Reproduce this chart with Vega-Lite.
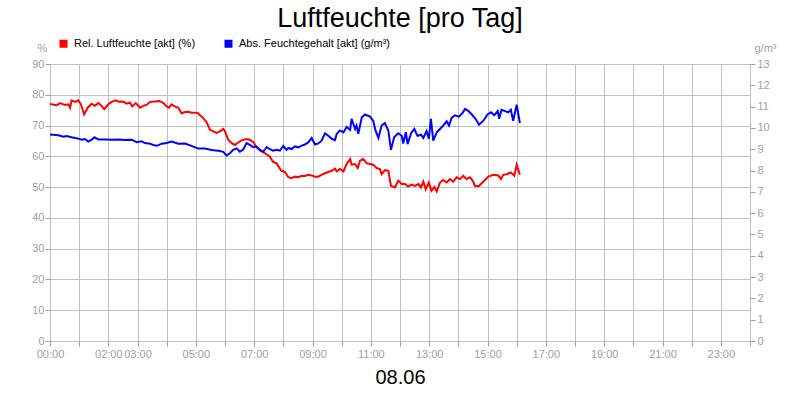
{
  "$schema": "https://vega.github.io/schema/vega-lite/v6.json",
  "autosize": {"type": "none"},
  "width": 700,
  "height": 277,
  "padding": {"left": 50, "top": 64, "right": 50, "bottom": 59},
  "background": "white",
  "title": {"text": "Luftfeuchte [pro Tag]", "frame": "group", "anchor": "middle", "baseline": "alphabetic", "offset": 8, "dy": 24, "fontSize": 27, "font": "Liberation Sans", "fontWeight": "normal", "color": "black"},
  "config": {
    "view": {"stroke": "black", "strokeWidth": 1},
    "axis": {"labelFont": "Liberation Sans", "labelFontSize": 11, "labelColor": "#a0a0a0", "tickColor": "#a0a0a0", "tickSize": 5, "domain": false, "gridColor": "#c0c0c0", "gridOpacity": 1, "gridWidth": 1, "titleFont": "Liberation Sans", "titleFontWeight": "normal"}
  },
  "layer": [
    {
      "data": {"values": [
        {"stunde": 0.0, "rel": 77.0}, {"stunde": 0.23, "rel": 76.6}, {"stunde": 0.34, "rel": 77.3}, {"stunde": 0.51, "rel": 76.7}, {"stunde": 0.63, "rel": 76.9}, {"stunde": 0.69, "rel": 75.8}, {"stunde": 0.74, "rel": 78.2}, {"stunde": 0.86, "rel": 77.7}, {"stunde": 0.97, "rel": 78.2}, {"stunde": 1.06, "rel": 76.9}, {"stunde": 1.17, "rel": 73.6}, {"stunde": 1.29, "rel": 75.8}, {"stunde": 1.43, "rel": 77.1}, {"stunde": 1.54, "rel": 76.4}, {"stunde": 1.66, "rel": 77.3}, {"stunde": 1.77, "rel": 76.4}, {"stunde": 1.86, "rel": 75.3}, {"stunde": 2.0, "rel": 76.9}, {"stunde": 2.11, "rel": 77.7}, {"stunde": 2.25, "rel": 78.2}, {"stunde": 2.37, "rel": 77.7}, {"stunde": 2.51, "rel": 77.8}, {"stunde": 2.63, "rel": 77.1}, {"stunde": 2.74, "rel": 77.5}, {"stunde": 2.82, "rel": 76.2}, {"stunde": 2.94, "rel": 77.3}, {"stunde": 3.09, "rel": 75.8}, {"stunde": 3.2, "rel": 76.4}, {"stunde": 3.31, "rel": 76.7}, {"stunde": 3.43, "rel": 77.7}, {"stunde": 3.6, "rel": 77.8}, {"stunde": 3.74, "rel": 78.0}, {"stunde": 3.89, "rel": 77.3}, {"stunde": 4.0, "rel": 76.2}, {"stunde": 4.08, "rel": 75.8}, {"stunde": 4.17, "rel": 76.9}, {"stunde": 4.28, "rel": 76.2}, {"stunde": 4.4, "rel": 75.8}, {"stunde": 4.51, "rel": 74.0}, {"stunde": 4.63, "rel": 74.4}, {"stunde": 4.74, "rel": 74.5}, {"stunde": 4.85, "rel": 74.2}, {"stunde": 4.97, "rel": 74.2}, {"stunde": 5.08, "rel": 74.0}, {"stunde": 5.14, "rel": 73.3}, {"stunde": 5.25, "rel": 72.5}, {"stunde": 5.37, "rel": 71.1}, {"stunde": 5.48, "rel": 68.7}, {"stunde": 5.6, "rel": 68.1}, {"stunde": 5.71, "rel": 67.6}, {"stunde": 5.83, "rel": 68.1}, {"stunde": 5.94, "rel": 68.9}, {"stunde": 6.0, "rel": 68.1}, {"stunde": 6.11, "rel": 65.4}, {"stunde": 6.23, "rel": 64.3}, {"stunde": 6.34, "rel": 63.7}, {"stunde": 6.45, "rel": 64.5}, {"stunde": 6.57, "rel": 65.2}, {"stunde": 6.74, "rel": 65.6}, {"stunde": 6.85, "rel": 65.4}, {"stunde": 6.97, "rel": 64.6}, {"stunde": 7.08, "rel": 63.0}, {"stunde": 7.2, "rel": 61.9}, {"stunde": 7.37, "rel": 61.0}, {"stunde": 7.54, "rel": 59.9}, {"stunde": 7.65, "rel": 58.2}, {"stunde": 7.77, "rel": 57.7}, {"stunde": 7.88, "rel": 56.0}, {"stunde": 7.94, "rel": 55.3}, {"stunde": 8.06, "rel": 54.9}, {"stunde": 8.17, "rel": 53.2}, {"stunde": 8.28, "rel": 52.9}, {"stunde": 8.4, "rel": 53.4}, {"stunde": 8.51, "rel": 53.2}, {"stunde": 8.63, "rel": 53.7}, {"stunde": 8.74, "rel": 53.6}, {"stunde": 8.86, "rel": 54.0}, {"stunde": 8.97, "rel": 53.8}, {"stunde": 9.09, "rel": 53.4}, {"stunde": 9.2, "rel": 53.4}, {"stunde": 9.31, "rel": 54.0}, {"stunde": 9.43, "rel": 54.5}, {"stunde": 9.54, "rel": 54.9}, {"stunde": 9.66, "rel": 55.3}, {"stunde": 9.77, "rel": 56.0}, {"stunde": 9.83, "rel": 55.1}, {"stunde": 9.94, "rel": 55.9}, {"stunde": 10.06, "rel": 55.1}, {"stunde": 10.17, "rel": 57.5}, {"stunde": 10.29, "rel": 59.1}, {"stunde": 10.34, "rel": 57.3}, {"stunde": 10.46, "rel": 57.5}, {"stunde": 10.55, "rel": 56.2}, {"stunde": 10.63, "rel": 58.6}, {"stunde": 10.74, "rel": 59.1}, {"stunde": 10.86, "rel": 57.7}, {"stunde": 10.97, "rel": 57.5}, {"stunde": 11.08, "rel": 57.3}, {"stunde": 11.2, "rel": 56.2}, {"stunde": 11.31, "rel": 55.9}, {"stunde": 11.37, "rel": 54.2}, {"stunde": 11.48, "rel": 55.5}, {"stunde": 11.6, "rel": 55.3}, {"stunde": 11.69, "rel": 50.4}, {"stunde": 11.83, "rel": 49.9}, {"stunde": 11.94, "rel": 52.1}, {"stunde": 12.06, "rel": 51.0}, {"stunde": 12.17, "rel": 51.0}, {"stunde": 12.28, "rel": 50.2}, {"stunde": 12.4, "rel": 50.8}, {"stunde": 12.51, "rel": 50.4}, {"stunde": 12.63, "rel": 51.0}, {"stunde": 12.72, "rel": 49.9}, {"stunde": 12.8, "rel": 51.8}, {"stunde": 12.88, "rel": 49.3}, {"stunde": 12.99, "rel": 51.5}, {"stunde": 13.08, "rel": 48.8}, {"stunde": 13.18, "rel": 50.1}, {"stunde": 13.26, "rel": 48.6}, {"stunde": 13.37, "rel": 51.5}, {"stunde": 13.48, "rel": 52.3}, {"stunde": 13.6, "rel": 51.5}, {"stunde": 13.71, "rel": 52.6}, {"stunde": 13.83, "rel": 51.8}, {"stunde": 13.94, "rel": 53.2}, {"stunde": 14.06, "rel": 52.6}, {"stunde": 14.17, "rel": 53.7}, {"stunde": 14.28, "rel": 52.6}, {"stunde": 14.4, "rel": 53.2}, {"stunde": 14.51, "rel": 51.8}, {"stunde": 14.57, "rel": 50.4}, {"stunde": 14.71, "rel": 50.4}, {"stunde": 14.86, "rel": 51.8}, {"stunde": 15.03, "rel": 53.4}, {"stunde": 15.2, "rel": 54.0}, {"stunde": 15.37, "rel": 53.8}, {"stunde": 15.46, "rel": 52.6}, {"stunde": 15.54, "rel": 54.0}, {"stunde": 15.66, "rel": 54.2}, {"stunde": 15.8, "rel": 54.8}, {"stunde": 15.92, "rel": 53.7}, {"stunde": 16.0, "rel": 57.3}, {"stunde": 16.11, "rel": 54.0}
      ]},
      "mark": {"type": "line", "strokeWidth": 2},
      "encoding": {
        "x": {"field": "stunde", "type": "quantitative", "scale": {"domain": [0, 24], "nice": false, "zero": false},
          "axis": {"values": [0,1,2,3,4,5,6,7,8,9,10,11,12,13,14,15,16,17,18,19,20,21,22,23,24], "labelExpr": "indexof([0,2,3,5,7,9,11,13,15,17,19,21,23], datum.value) >= 0 ? (datum.value < 10 ? '0' : '') + datum.value + ':00' : ''", "grid": true, "labelPadding": 2, "labelFlush": false, "labelOverlap": false, "title": "08.06", "titleFontSize": 20, "titleColor": "black", "titlePadding": 8}},
        "y": {"field": "rel", "type": "quantitative", "scale": {"domain": [0, 90], "nice": false},
          "axis": {"values": [0,10,20,30,40,50,60,70,80,90], "grid": true, "labelPadding": 1, "title": "%", "titleAngle": 0, "titleX": -8, "titleY": -13, "titleAlign": "center", "titleBaseline": "alphabetic", "titleColor": "#a0a0a0", "titleFontSize": 11}},
        "color": {"datum": "Rel. Luftfeuchte [akt] (%)", "type": "nominal",
          "scale": {"domain": ["Rel. Luftfeuchte [akt] (%)", "Abs. Feuchtegehalt [akt] (g/m³)"], "range": ["#ff0000", "#0000ff"]},
          "legend": {"orient": "none", "legendX": 8, "legendY": -26, "direction": "horizontal", "title": null, "symbolType": "square", "symbolSize": 16, "symbolStrokeWidth": 4, "labelFont": "Liberation Sans", "labelFontSize": 11, "labelColor": "black", "labelOffset": 5, "columnPadding": 22}}
      }
    },
    {
      "data": {"values": [
        {"stunde": 0.0, "abs": 9.69}, {"stunde": 0.29, "abs": 9.66}, {"stunde": 0.46, "abs": 9.59}, {"stunde": 0.57, "abs": 9.62}, {"stunde": 0.74, "abs": 9.56}, {"stunde": 0.91, "abs": 9.52}, {"stunde": 1.09, "abs": 9.45}, {"stunde": 1.2, "abs": 9.48}, {"stunde": 1.31, "abs": 9.36}, {"stunde": 1.43, "abs": 9.45}, {"stunde": 1.52, "abs": 9.56}, {"stunde": 1.66, "abs": 9.46}, {"stunde": 1.89, "abs": 9.46}, {"stunde": 2.11, "abs": 9.45}, {"stunde": 2.34, "abs": 9.46}, {"stunde": 2.57, "abs": 9.43}, {"stunde": 2.8, "abs": 9.45}, {"stunde": 2.97, "abs": 9.33}, {"stunde": 3.14, "abs": 9.37}, {"stunde": 3.26, "abs": 9.29}, {"stunde": 3.43, "abs": 9.26}, {"stunde": 3.54, "abs": 9.2}, {"stunde": 3.66, "abs": 9.16}, {"stunde": 3.83, "abs": 9.26}, {"stunde": 4.0, "abs": 9.29}, {"stunde": 4.17, "abs": 9.36}, {"stunde": 4.4, "abs": 9.26}, {"stunde": 4.63, "abs": 9.27}, {"stunde": 4.85, "abs": 9.16}, {"stunde": 5.08, "abs": 9.03}, {"stunde": 5.31, "abs": 9.03}, {"stunde": 5.54, "abs": 8.96}, {"stunde": 5.77, "abs": 8.93}, {"stunde": 5.94, "abs": 8.88}, {"stunde": 6.05, "abs": 8.71}, {"stunde": 6.17, "abs": 8.81}, {"stunde": 6.28, "abs": 8.97}, {"stunde": 6.4, "abs": 9.04}, {"stunde": 6.51, "abs": 8.88}, {"stunde": 6.63, "abs": 9.0}, {"stunde": 6.74, "abs": 9.29}, {"stunde": 6.85, "abs": 9.2}, {"stunde": 6.97, "abs": 9.1}, {"stunde": 7.08, "abs": 9.13}, {"stunde": 7.2, "abs": 8.97}, {"stunde": 7.31, "abs": 8.88}, {"stunde": 7.43, "abs": 9.1}, {"stunde": 7.54, "abs": 9.0}, {"stunde": 7.65, "abs": 8.93}, {"stunde": 7.77, "abs": 8.97}, {"stunde": 7.88, "abs": 8.93}, {"stunde": 8.0, "abs": 9.16}, {"stunde": 8.11, "abs": 8.97}, {"stunde": 8.17, "abs": 9.06}, {"stunde": 8.28, "abs": 9.01}, {"stunde": 8.4, "abs": 9.13}, {"stunde": 8.51, "abs": 9.09}, {"stunde": 8.63, "abs": 9.17}, {"stunde": 8.74, "abs": 9.22}, {"stunde": 8.86, "abs": 9.33}, {"stunde": 8.97, "abs": 9.52}, {"stunde": 9.09, "abs": 9.22}, {"stunde": 9.2, "abs": 9.27}, {"stunde": 9.31, "abs": 9.4}, {"stunde": 9.43, "abs": 9.75}, {"stunde": 9.54, "abs": 9.63}, {"stunde": 9.66, "abs": 9.49}, {"stunde": 9.77, "abs": 9.43}, {"stunde": 9.83, "abs": 9.72}, {"stunde": 9.94, "abs": 9.88}, {"stunde": 10.06, "abs": 9.79}, {"stunde": 10.17, "abs": 10.04}, {"stunde": 10.29, "abs": 9.91}, {"stunde": 10.34, "abs": 10.43}, {"stunde": 10.46, "abs": 9.95}, {"stunde": 10.51, "abs": 10.11}, {"stunde": 10.57, "abs": 9.72}, {"stunde": 10.69, "abs": 10.5}, {"stunde": 10.8, "abs": 10.63}, {"stunde": 10.97, "abs": 10.53}, {"stunde": 11.08, "abs": 10.34}, {"stunde": 11.16, "abs": 9.88}, {"stunde": 11.26, "abs": 9.53}, {"stunde": 11.37, "abs": 10.11}, {"stunde": 11.48, "abs": 10.23}, {"stunde": 11.6, "abs": 9.88}, {"stunde": 11.69, "abs": 8.97}, {"stunde": 11.8, "abs": 9.56}, {"stunde": 11.94, "abs": 9.75}, {"stunde": 12.06, "abs": 9.63}, {"stunde": 12.11, "abs": 9.27}, {"stunde": 12.2, "abs": 9.8}, {"stunde": 12.26, "abs": 9.24}, {"stunde": 12.38, "abs": 9.75}, {"stunde": 12.49, "abs": 9.95}, {"stunde": 12.6, "abs": 9.63}, {"stunde": 12.72, "abs": 9.68}, {"stunde": 12.8, "abs": 9.53}, {"stunde": 12.91, "abs": 9.85}, {"stunde": 12.99, "abs": 9.49}, {"stunde": 13.06, "abs": 10.43}, {"stunde": 13.14, "abs": 9.4}, {"stunde": 13.26, "abs": 9.79}, {"stunde": 13.37, "abs": 9.95}, {"stunde": 13.48, "abs": 10.11}, {"stunde": 13.6, "abs": 10.31}, {"stunde": 13.68, "abs": 10.11}, {"stunde": 13.77, "abs": 10.47}, {"stunde": 13.88, "abs": 10.59}, {"stunde": 14.02, "abs": 10.53}, {"stunde": 14.14, "abs": 10.69}, {"stunde": 14.23, "abs": 10.89}, {"stunde": 14.34, "abs": 10.8}, {"stunde": 14.46, "abs": 10.63}, {"stunde": 14.59, "abs": 10.43}, {"stunde": 14.71, "abs": 10.15}, {"stunde": 14.86, "abs": 10.34}, {"stunde": 15.0, "abs": 10.63}, {"stunde": 15.12, "abs": 10.73}, {"stunde": 15.23, "abs": 10.59}, {"stunde": 15.35, "abs": 10.79}, {"stunde": 15.4, "abs": 10.43}, {"stunde": 15.48, "abs": 10.85}, {"stunde": 15.6, "abs": 10.79}, {"stunde": 15.71, "abs": 10.73}, {"stunde": 15.8, "abs": 10.85}, {"stunde": 15.88, "abs": 10.34}, {"stunde": 16.0, "abs": 11.09}, {"stunde": 16.11, "abs": 10.23}
      ]},
      "mark": {"type": "line", "strokeWidth": 2},
      "encoding": {
        "x": {"field": "stunde", "type": "quantitative", "scale": {"domain": [0, 24], "nice": false, "zero": false},
          "axis": {"values": [0,1,2,3,4,5,6,7,8,9,10,11,12,13,14,15,16,17,18,19,20,21,22,23,24], "labelExpr": "indexof([0,2,3,5,7,9,11,13,15,17,19,21,23], datum.value) >= 0 ? (datum.value < 10 ? '0' : '') + datum.value + ':00' : ''", "grid": true, "labelPadding": 2, "labelFlush": false, "labelOverlap": false, "title": "08.06", "titleFontSize": 20, "titleColor": "black", "titlePadding": 8}},
        "y": {"field": "abs", "type": "quantitative", "scale": {"domain": [0, 13], "nice": false},
          "axis": {"orient": "right", "values": [0,1,2,3,4,5,6,7,8,9,10,11,12,13], "grid": false, "labelPadding": 2, "title": "g/m³", "titleAngle": 0, "titleX": 15, "titleY": -13, "titleAlign": "center", "titleBaseline": "alphabetic", "titleColor": "#a0a0a0", "titleFontSize": 11}},
        "color": {"datum": "Abs. Feuchtegehalt [akt] (g/m³)", "type": "nominal"}
      }
    }
  ],
  "resolve": {"scale": {"y": "independent"}}
}
